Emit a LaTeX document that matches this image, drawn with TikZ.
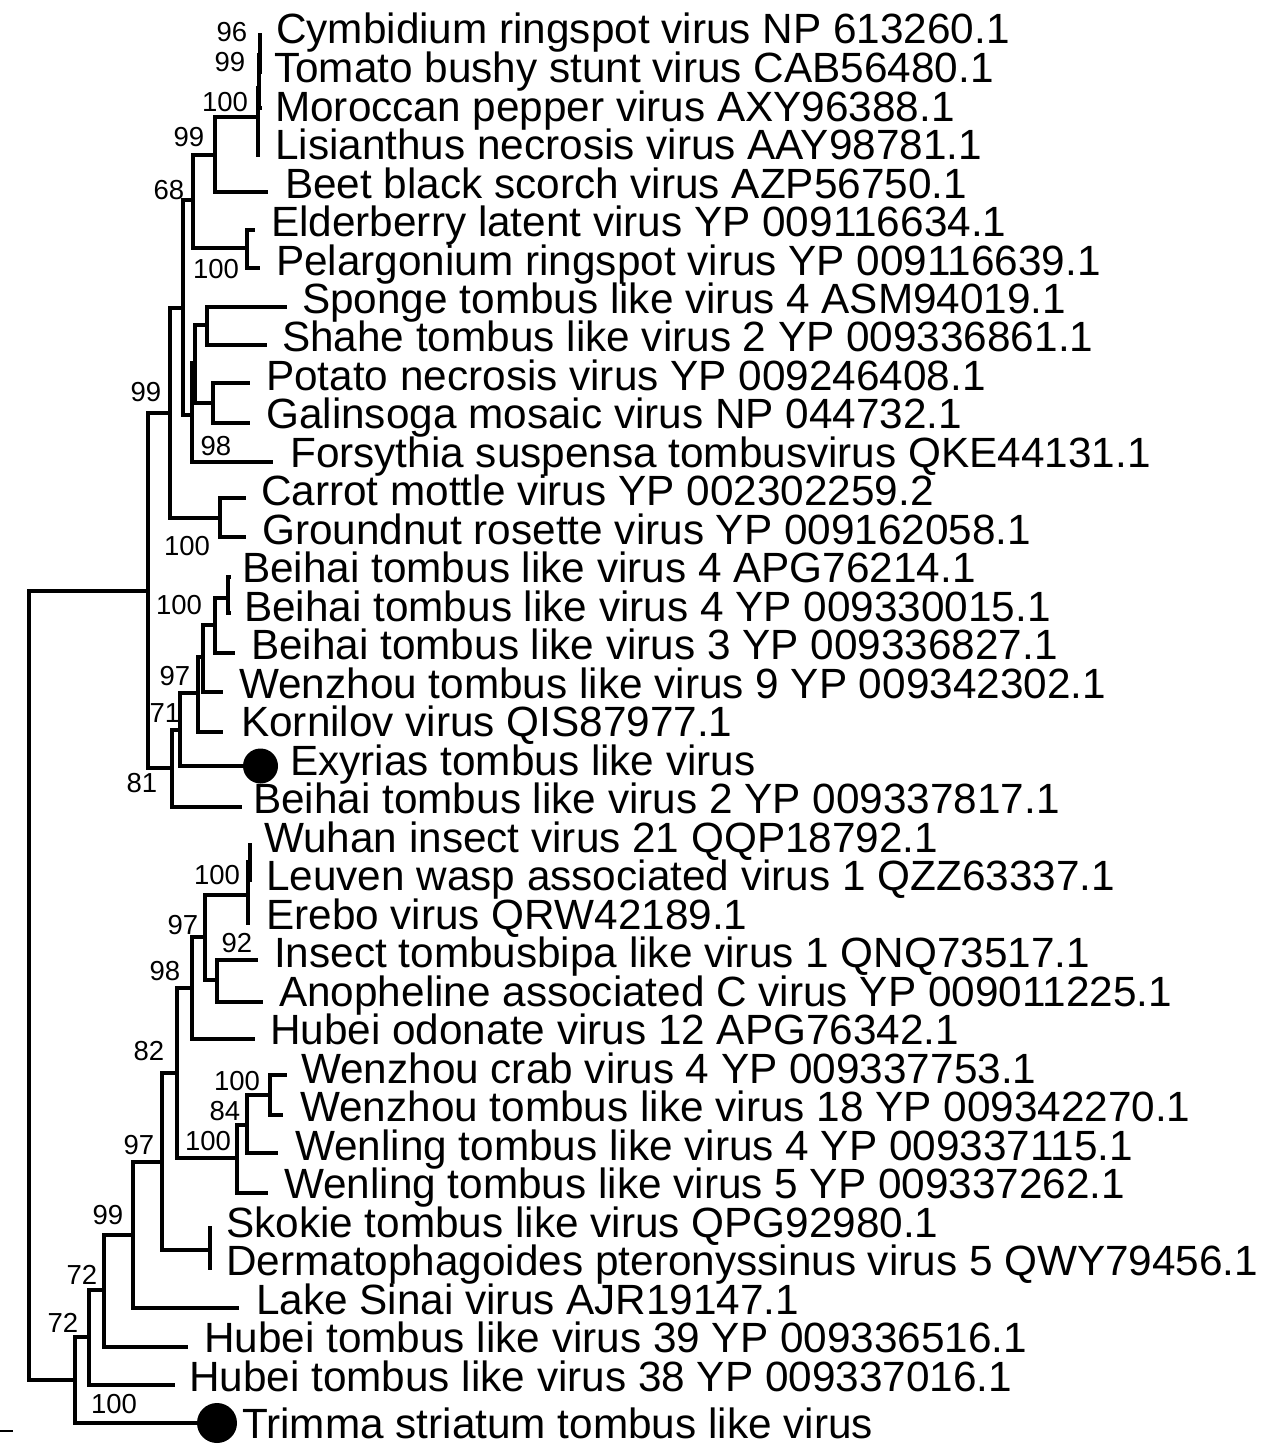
\documentclass[tikz,border=0pt]{standalone}
\usepackage{fontspec}
\setmainfont{Liberation Sans}
\begin{document}
\begin{tikzpicture}[x=1pt,y=-1pt,
  br/.style={line width=4.6pt},
  tx/.style={font=\fontsize{42.3}{48}\selectfont, anchor=base west, inner sep=0pt},
  bs/.style={font=\fontsize{27.5}{30}\selectfont, inner sep=0pt, anchor=center},
  dot/.style={circle, fill=black, draw=none, inner sep=0pt}]
\useasboundingbox (0,0) rectangle (1266,1445);
% internal nodes
\coordinate (R) at (29,985);
\coordinate (A) at (148,591);
\coordinate (L) at (75,1380);
\coordinate (B) at (170,413);
\coordinate (C) at (172,768);
\coordinate (D) at (183,308);
\coordinate (CG) at (220,518);
\coordinate (E) at (193,200);
\coordinate (F) at (192,415);
\coordinate (G) at (215,155);
\coordinate (EP) at (247,248);
\coordinate (H) at (258,117);
\coordinate (H2) at (259,88);
\coordinate (H3) at (260,55);
\coordinate (F1) at (195,363);
\coordinate (SS) at (207,325);
\coordinate (PG) at (213,403);
\coordinate (C1) at (180,730);
\coordinate (C2) at (198,693);
\coordinate (C3) at (203,657);
\coordinate (C4) at (215,625);
\coordinate (C5) at (228,598);
\coordinate (L1) at (89,1337);
\coordinate (L2) at (104,1290);
\coordinate (L3) at (133,1235);
\coordinate (L4) at (162,1162);
\coordinate (N82) at (177,1073);
\coordinate (SD) at (210,1250);
\coordinate (N98) at (192,988);
\coordinate (NW) at (237,1158);
\coordinate (N97) at (205,937);
\coordinate (W) at (248,895);
\coordinate (W1) at (250,862);
\coordinate (N92) at (217,980);
\coordinate (NW1) at (247,1125);
\coordinate (NW2) at (270,1095);
% tips
\coordinate (k1) at (262,35);
\coordinate (k2) at (262,72);
\coordinate (k3) at (262,108);
\coordinate (k4) at (260,155);
\coordinate (k5) at (268,192);
\coordinate (k6) at (255,230);
\coordinate (k7) at (260,268);
\coordinate (k8) at (287,307);
\coordinate (k9) at (267,345);
\coordinate (k10) at (250,383);
\coordinate (k11) at (250,423);
\coordinate (k12) at (273,462);
\coordinate (k13) at (246,498);
\coordinate (k14) at (246,537);
\coordinate (k15) at (231,577);
\coordinate (k16) at (231,613);
\coordinate (k17) at (235,653);
\coordinate (k18) at (223,692);
\coordinate (k19) at (223,732);
\coordinate (k21) at (242,807);
\coordinate (k22) at (252,845);
\coordinate (k23) at (252,880);
\coordinate (k24) at (250,923);
\coordinate (k25) at (258,960);
\coordinate (k26) at (263,1002);
\coordinate (k27) at (255,1039);
\coordinate (k28) at (287,1075);
\coordinate (k29) at (283,1115);
\coordinate (k30) at (278,1153);
\coordinate (k31) at (268,1193);
\coordinate (k32) at (212,1228);
\coordinate (k33) at (212,1268);
\coordinate (k34) at (239,1308);
\coordinate (k35) at (188,1347);
\coordinate (k36) at (175,1385);
\node[dot, minimum size=35pt] (k20) at (260.5,766) {};
\node[dot, minimum size=40pt] (k37) at (217,1423) {};
% branches
\foreach \p/\c in {R/A, R/L, A/B, A/C, B/D, B/CG, D/E, D/F, E/G, E/EP, G/H, G/k5,
  H/H2, H/k4, H2/H3, H2/k3, H3/k1, H3/k2, EP/k6, EP/k7, F/F1, F/k12, F1/SS, F1/PG,
  SS/k8, SS/k9, PG/k10, PG/k11, CG/k13, CG/k14, C/C1, C/k21, C1/C2, C1/k20,
  C2/C3, C2/k19, C3/C4, C3/k18, C4/C5, C4/k17, C5/k15, C5/k16,
  L/L1, L/k37, L1/L2, L1/k36, L2/L3, L2/k35, L3/L4, L3/k34, L4/N82, L4/SD,
  SD/k32, SD/k33, N82/N98, N82/NW, N98/N97, N98/k27, N97/W, N97/N92,
  W/W1, W/k24, W1/k22, W1/k23, N92/k25, N92/k26, NW/NW1, NW/k31,
  NW1/NW2, NW1/k30, NW2/k28, NW2/k29}
  \draw[br] (\p) |- (\c);
% scale bar
\coordinate (sb1) at (0,1431);
\coordinate (sb2) at (13,1431);
\draw[line width=1.7pt] (sb1) -- (sb2);
% taxon labels
\node[tx] (t1) at (276,44) {Cymbidium ringspot virus NP 613260.1};
\node[tx] (t2) at (274,82.5) {Tomato bushy stunt virus CAB56480.1};
\node[tx] (t3) at (275,121) {Moroccan pepper virus AXY96388.1};
\node[tx] (t4) at (275,159.5) {Lisianthus necrosis virus AAY98781.1};
\node[tx] (t5) at (285,198) {Beet black scorch virus AZP56750.1};
\node[tx] (t6) at (271,236.5) {Elderberry latent virus YP 009116634.1};
\node[tx] (t7) at (276,275) {Pelargonium ringspot virus YP 009116639.1};
\node[tx] (t8) at (302,313.4) {Sponge tombus like virus 4 ASM94019.1};
\node[tx] (t9) at (282,351.9) {Shahe tombus like virus 2 YP 009336861.1};
\node[tx] (t10) at (266,390.4) {Potato necrosis virus YP 009246408.1};
\node[tx] (t11) at (266,428.9) {Galinsoga mosaic virus NP 044732.1};
\node[tx] (t12) at (290,467.4) {Forsythia suspensa tombusvirus QKE44131.1};
\node[tx] (t13) at (261,505.9) {Carrot mottle virus YP 002302259.2};
\node[tx] (t14) at (262,544.4) {Groundnut rosette virus YP 009162058.1};
\node[tx] (t15) at (242,582.9) {Beihai tombus like virus 4 APG76214.1};
\node[tx] (t16) at (244,621.3) {Beihai tombus like virus 4 YP 009330015.1};
\node[tx] (t17) at (251,659.8) {Beihai tombus like virus 3 YP 009336827.1};
\node[tx] (t18) at (239,698.3) {Wenzhou tombus like virus 9 YP 009342302.1};
\node[tx] (t19) at (241,736.8) {Kornilov virus QIS87977.1};
\node[tx] (t20) at (290,775.5) {Exyrias tombus like virus};
\node[tx] (t21) at (253,813.8) {Beihai tombus like virus 2 YP 009337817.1};
\node[tx] (t22) at (264,852.3) {Wuhan insect virus 21 QQP18792.1};
\node[tx] (t23) at (266,890.8) {Leuven wasp associated virus 1 QZZ63337.1};
\node[tx] (t24) at (266,929.3) {Erebo virus QRW42189.1};
\node[tx] (t25) at (274,967.7) {Insect tombusbipa like virus 1 QNQ73517.1};
\node[tx] (t26) at (279,1006.2) {Anopheline associated C virus YP 009011225.1};
\node[tx] (t27) at (270,1044.7) {Hubei odonate virus 12 APG76342.1};
\node[tx] (t28) at (301,1083.2) {Wenzhou crab virus 4 YP 009337753.1};
\node[tx] (t29) at (300,1121.7) {Wenzhou tombus like virus 18 YP 009342270.1};
\node[tx] (t30) at (295,1160.2) {Wenling tombus like virus 4 YP 009337115.1};
\node[tx] (t31) at (284,1198.7) {Wenling tombus like virus 5 YP 009337262.1};
\node[tx] (t32) at (226,1237.2) {Skokie tombus like virus QPG92980.1};
\node[tx] (t33) at (226,1275.7) {Dermatophagoides pteronyssinus virus 5 QWY79456.1};
\node[tx] (t34) at (256,1314.1) {Lake Sinai virus AJR19147.1};
\node[tx] (t35) at (204,1352.6) {Hubei tombus like virus 39 YP 009336516.1};
\node[tx] (t36) at (189,1391.1) {Hubei tombus like virus 38 YP 009337016.1};
\node[tx] (t37) at (242,1438) {Trimma striatum tombus like virus};
% bootstrap values
\node[bs] (b1) at (232,32) {96};
\node[bs] (b2) at (230,62) {99};
\node[bs] (b3) at (225,102) {100};
\node[bs] (b4) at (189,137) {99};
\node[bs] (b5) at (169,190) {68};
\node[bs] (b6) at (216,269) {100};
\node[bs] (b7) at (146,392) {99};
\node[bs] (b8) at (216,446) {98};
\node[bs] (b9) at (187,546) {100};
\node[bs] (b10) at (179,605) {100};
\node[bs] (b11) at (175,676) {97};
\node[bs] (b12) at (165,713) {71};
\node[bs] (b13) at (142,783) {81};
\node[bs] (b14) at (217,875) {100};
\node[bs] (b15) at (183,925) {97};
\node[bs] (b16) at (237,943) {92};
\node[bs] (b17) at (165,971) {98};
\node[bs] (b18) at (149,1051) {82};
\node[bs] (b19) at (237,1081) {100};
\node[bs] (b20) at (225,1111) {84};
\node[bs] (b21) at (208,1141) {100};
\node[bs] (b22) at (139,1145) {97};
\node[bs] (b23) at (108,1215) {99};
\node[bs] (b24) at (82,1275) {72};
\node[bs] (b25) at (63,1323) {72};
\node[bs] (b26) at (114,1404) {100};
\end{tikzpicture}
\end{document}
